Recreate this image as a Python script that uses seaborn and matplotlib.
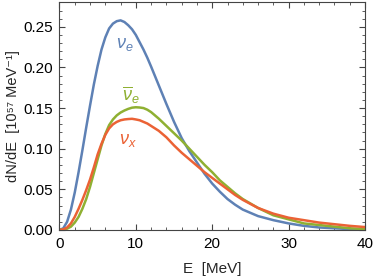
import numpy as np
import pandas as pd
import matplotlib
matplotlib.use('Agg')
import matplotlib.pyplot as plt
import seaborn as sns

# energija [MeV]
energy = [0, 0.5, 1, 1.5, 2, 2.5, 3, 3.5, 4, 4.5, 5, 5.5, 6, 6.5, 7, 7.5, 8, 8.5, 9, 9.5, 10, 10.5, 11, 11.5, 12,
          13, 14, 15, 16, 17, 18, 19, 20, 21, 22, 23, 24, 26, 28, 30, 32, 34, 36, 38, 40]
# nu_e spektras
nu_e = [0.0, 0.002, 0.010, 0.025, 0.046, 0.071, 0.098, 0.126, 0.153, 0.179, 0.202, 0.222, 0.237, 0.248,
        0.254, 0.257, 0.258, 0.256, 0.252, 0.247, 0.240, 0.231, 0.222, 0.212, 0.201,
        0.178, 0.155, 0.133, 0.113, 0.097, 0.083, 0.069, 0.057, 0.047, 0.038, 0.031, 0.025,
        0.017, 0.012, 0.008, 0.005, 0.003, 0.002, 0.001, 0.0005]
# anti nu_e spektras
nu_ebar = [0.0, 0.0003, 0.0015, 0.004, 0.009, 0.016, 0.026, 0.038, 0.053, 0.070, 0.087, 0.104, 0.118, 0.129,
           0.136, 0.141, 0.1445, 0.147, 0.149, 0.1505, 0.151, 0.1507, 0.150, 0.148, 0.145,
           0.137, 0.128, 0.119, 0.110, 0.100, 0.090, 0.080, 0.071, 0.061, 0.053, 0.045, 0.038,
           0.027, 0.018, 0.013, 0.008, 0.006, 0.004, 0.002, 0.001]
# nu_x spektras
nu_x = [0.0, 0.0007, 0.003, 0.008, 0.016, 0.026, 0.037, 0.049, 0.062, 0.077, 0.093, 0.106, 0.117, 0.125,
        0.130, 0.133, 0.135, 0.136, 0.1365, 0.1368, 0.136, 0.135, 0.133, 0.131, 0.128,
        0.122, 0.114, 0.104, 0.095, 0.087, 0.079, 0.071, 0.064, 0.057, 0.050, 0.043, 0.037,
        0.027, 0.020, 0.015, 0.012, 0.009, 0.007, 0.005, 0.0035]

labels = [r'$\mathit{\nu}_e$', r'$\overline{\mathit{\nu}}_e$', r'$\mathit{\nu}_x$']
colors = ['#5E81B5', '#8FB032', '#EB6235']

df = pd.DataFrame({'E': energy, 'nu_e': nu_e, 'nu_ebar': nu_ebar, 'nu_x': nu_x})

sns.set_style('ticks')
plt.rcParams['font.family'] = ['Liberation Sans', 'DejaVu Sans']
plt.rcParams['mathtext.fontset'] = 'custom'
plt.rcParams['mathtext.rm'] = 'Liberation Sans'
plt.rcParams['mathtext.it'] = 'Liberation Sans:italic'

fig = plt.figure(figsize=(3.74, 2.77), dpi=100)
ax = fig.add_axes([0.159, 0.170, 0.817, 0.821])

# kreives
for col, c in zip(['nu_e', 'nu_ebar', 'nu_x'], colors):
    sns.lineplot(data=df, x='E', y=col, color=c, linewidth=1.8, ax=ax)

# uzrasai prie kreiviu
ax.text(8.6, 0.228, labels[0], color=colors[0], fontsize=13, ha='center', va='center')
ax.text(9.4, 0.166, labels[1], color=colors[1], fontsize=13, ha='center', va='center')
ax.text(9.0, 0.110, labels[2], color=colors[2], fontsize=13, ha='center', va='center')

ax.set_xlim(0, 40)
ax.set_ylim(0, 0.28)
ax.set_xticks([0, 10, 20, 30, 40])
ax.set_xticks(np.arange(0, 41, 2), minor=True)
ax.set_yticks([0, 0.05, 0.10, 0.15, 0.20, 0.25])
ax.set_yticks(np.arange(0, 0.281, 0.01), minor=True)
ax.yaxis.set_major_formatter(matplotlib.ticker.FormatStrFormatter('%.2f'))

frame = '#444444'
for s in ax.spines.values():
    s.set_color(frame)
    s.set_linewidth(0.8)
ax.tick_params(which='both', direction='in', top=True, right=True, colors=frame,
               labelcolor='black', labelsize=11)
ax.tick_params(which='major', length=4, width=0.8, pad=5)
ax.tick_params(which='minor', length=2, width=0.6)

ax.set_xlabel('E  [MeV]', fontsize=11)
ax.set_ylabel('dN/dE  [10⁵⁷ MeV⁻¹]', fontsize=10.5)
ax.xaxis.set_label_coords(0.5, -0.14)
ax.yaxis.set_label_coords(-0.13, 0.5)

fig.savefig('out.png', dpi=100)
